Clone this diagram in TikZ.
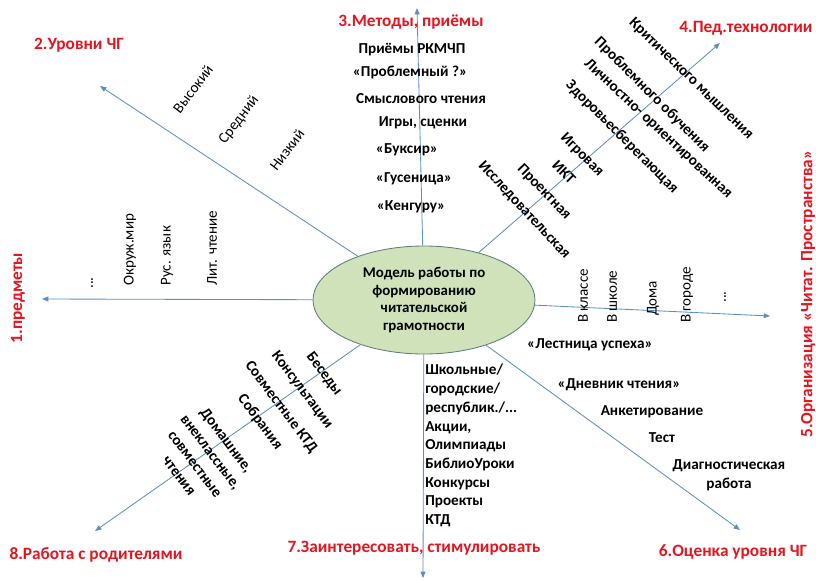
\documentclass[tikz,border=0pt]{standalone}
\usepackage{fontspec}
\setmainfont{Carlito}
\usepackage{xcolor}
\usepackage{tikz}
\usetikzlibrary{shapes.geometric,arrows.meta}
\definecolor{arrblue}{RGB}{91,143,199}
\definecolor{headred}{RGB}{230,20,30}
\definecolor{ellfill}{RGB}{207,226,185}
\definecolor{elldraw}{RGB}{95,125,125}

\begin{document}
\begin{tikzpicture}
    [
    x=0.025cm, y=-0.025cm,
    arr/.style = {draw=arrblue, line width=0.6pt, -{Triangle[length=4.5pt,width=3.5pt]}},
    head/.style = {text=headred, inner sep=0pt, font=\bfseries\fontsize{12.3}{14}\selectfont},
    item/.style = {inner sep=0pt, font=\bfseries\fontsize{10.8}{13.3}\selectfont},
    lite/.style = {inner sep=0pt, font=\fontsize{10.7}{13}\selectfont}
    ]
\useasboundingbox (0,0) rectangle (816,580);

% centre
\node[ellipse, draw=elldraw, fill=ellfill, line width=0.6pt, minimum width=222*0.025cm, minimum height=108*0.025cm,
      align=center, font=\bfseries\fontsize{10.6}{12.6}\selectfont] (model) at (424,300)
      {Модель работы по\\формированию\\читательской\\грамотности};

% arrow ends
\coordinate (t1) at (42,299);
\coordinate (t2) at (100,86);
\coordinate (t3) at (417,8);
\coordinate (t4) at (720,43);
\coordinate (t5) at (770,316);
\coordinate (t6) at (740,530);
\coordinate (t7) at (423,578);
\coordinate (t8) at (95,531);

\draw[arr] (model) -- (t1);
\draw[arr] (model) -- (t2);
\draw[arr] (model) -- (t3);
\draw[arr] (model) -- (t4);
\draw[arr] (model) -- (t5);
\draw[arr] (model) -- (t6);
\draw[arr] (model) -- (t7);
\draw[arr] (model) -- (t8);

% headings
\node[head, rotate=90] (h1) at (18,298) {1.предметы};
\node[head] (h2) at (79,45) {2.Уровни ЧГ};
\node[head] (h3) at (411,22) {3.Методы, приёмы};
\node[head] (h4) at (746,28) {4.Пед.технологии};
\node[head, rotate=90] (h5) at (808,294) {5.Организация «Читат. Пространства»};
\node[head] (h6) at (733,552) {6.Оценка уровня ЧГ};
\node[head] (h7) at (414,548) {7.Заинтересовать, стимулировать};
\node[head] (h8) at (96,555) {8.Работа с родителями};

% 1
\node[lite, rotate=90] (dots1) at (92,283) {...};
\node[lite, rotate=90, anchor=west] (okr) at (130,286) {Окруж.мир};
\node[lite, rotate=90, anchor=west] (rus) at (167,286) {Рус. язык};
\node[lite, rotate=90, anchor=west] (lit) at (212,286) {Лит. чтение};

% 2
\node[lite, rotate=53] (vys) at (193,89) {Высокий};
\node[lite, rotate=53] (sred) at (239,120) {Средний};
\node[lite, rotate=53] (niz) at (287,150) {Низкий};

% 3
\node[item] (rkm) at (412,50) {Приёмы РКМЧП};
\node[item] (probl) at (410,72) {«Проблемный ?»};
\node[item] (smysl) at (421,99) {Смыслового чтения};
\node[item] (igry) at (423,123) {Игры, сценки};
\node[item] (buks) at (407,150) {«Буксир»};
\node[item] (gus) at (414,179) {«Гусеница»};
\node[item] (keng) at (411,207) {«Кенгуру»};

% 4
\node[item, rotate=-44] (krit) at (691,79) {Критического мышления};
\node[item, rotate=-45] (probob) at (652,95) {Проблемного обучения};
\node[item, rotate=-43] (lichn) at (658,129) {Личностно- ориентированная};
\node[item, rotate=-45] (zdor) at (622,137) {Здоровьесберегающая};
\node[item, rotate=-45] (igr) at (582,155) {Игровая};
\node[item, rotate=-45] (ikt) at (564,172) {ИКТ};
\node[item, rotate=-46] (proekt) at (544,192) {Проектная};
\node[item, rotate=-47] (issl) at (524,210) {Исследовательская};

% 5
\node[lite, rotate=90, anchor=west] (klass) at (583,323) {В классе};
\node[lite, rotate=90, anchor=west] (shk) at (612,323) {В школе};
\node[lite, rotate=90, anchor=west] (doma) at (653,316) {Дома};
\node[lite, rotate=90, anchor=west] (gor) at (687,323) {В городе};
\node[lite, rotate=90] (dots5) at (725,297) {...};

% 6
\node[item] (lestn) at (590,345) {«Лестница успеха»};
\node[item] (dnevn) at (619,385) {«Дневник чтения»};
\node[item] (ank) at (652,412) {Анкетирование};
\node[item] (test) at (662,438) {Тест};
\node[item, align=center] (diag) at (729,475) {Диагностическая\\работа};

% 7
\node[item, align=left, anchor=north west] (akc) at (425,364)
  {Школьные/\\городские/\\республик./...\\Акции,\\Олимпиады\\БиблиоУроки\\Конкурсы\\Проекты\\КТД};

% 8
\node[item, rotate=-53] (bes) at (324,374) {Беседы};
\node[item, rotate=-53] (kons) at (302,390) {Консультации};
\node[item, rotate=-53] (sovm) at (281,407) {Совместные КТД};
\node[item, rotate=-53] (sobr) at (260,422) {Собрания};
\node[item, rotate=-53, align=center, font=\bfseries\fontsize{10.8}{14}\selectfont] (dom) at (203,458)
  {Домашние,\\внеклассные,\\совместные\\чтения};

\end{tikzpicture}
\end{document}
